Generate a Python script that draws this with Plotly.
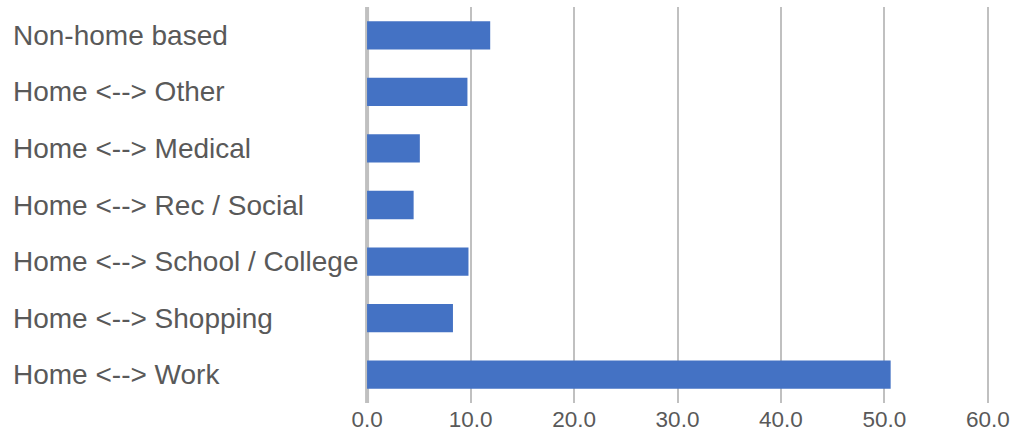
import plotly.graph_objects as go

categories = [
    "Non-home based",
    "Home <--> Other",
    "Home <--> Medical",
    "Home <--> Rec / Social",
    "Home <--> School / College",
    "Home <--> Shopping",
    "Home <--> Work",
]
values = [11.9, 9.7, 5.1, 4.5, 9.8, 8.3, 50.6]
x_ticks = [0, 10, 20, 30, 40, 50, 60]
x_tick_labels = ["0.0", "10.0", "20.0", "30.0", "40.0", "50.0", "60.0"]

W, H = 1017, 441
ml, mr, mt, mb = 365, 23, 7, 38
plot_w = W - ml - mr
FONT = "Liberation Sans, Arial, sans-serif"
GRID = "#C0C0C0"

fig = go.Figure(
    go.Bar(
        x=values,
        y=categories,
        orientation="h",
        marker=dict(color="#4472C4", line=dict(width=0)),
        hoverinfo="x+y",
    )
)

annotations = []
for c in categories:
    annotations.append(
        dict(
            x=(9 - ml) / plot_w,
            xref="paper",
            y=c,
            yref="y",
            text=c,
            showarrow=False,
            xanchor="left",
            yanchor="middle",
            font=dict(family=FONT, size=28, color="#595959"),
        )
    )

# baseline (value axis origin) drawn as a gridline-styled line beneath the bars
fig.add_shape(
    type="line",
    x0=x_ticks[0], x1=x_ticks[0],
    xref="x",
    y0=0, y1=1,
    yref="paper",
    line=dict(color=GRID, width=4),
    layer="below",
)

fig.update_layout(
    width=W,
    height=H,
    margin=dict(l=ml, r=mr, t=mt, b=mb, pad=0),
    paper_bgcolor="white",
    plot_bgcolor="white",
    bargap=0.5,
    showlegend=False,
    annotations=annotations,
    xaxis=dict(
        range=[-0.2, 60.2],
        tickvals=x_ticks,
        ticktext=x_tick_labels,
        showgrid=True,
        gridcolor=GRID,
        gridwidth=2,
        zeroline=False,
        showline=False,
        ticks="",
        tickfont=dict(family=FONT, size=22.5, color="#595959"),
        fixedrange=True,
    ),
    yaxis=dict(
        categoryorder="array",
        categoryarray=categories,
        autorange="reversed",
        showticklabels=False,
        showgrid=False,
        zeroline=False,
        showline=False,
        ticks="",
        fixedrange=True,
    ),
)

fig.write_html("out.html", config={"displayModeBar": False})
